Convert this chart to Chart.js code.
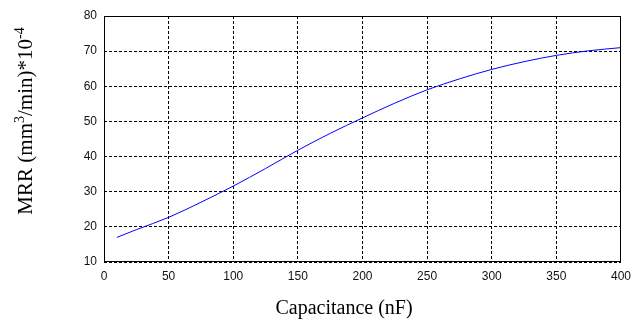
<!DOCTYPE html>
<html>
<head>
<meta charset="utf-8">
<script src="https://cdn.jsdelivr.net/npm/chart.js@4"></script>
<style>
  html, body { margin: 0; padding: 0; background: #fff; }
  #wrap { width: 638px; height: 320px; }
</style>
</head>
<body>
<div id="wrap"><canvas id="mrr_chart" width="638" height="320"></canvas></div>
<script>
// capacitance (nF) and material removal rate
var capacitance = [10, 25, 50, 75, 100, 125, 150, 175, 200, 225, 250, 275, 300, 325, 350, 375, 400];
var mrr = [17.0, 19.2, 22.7, 27.0, 31.6, 36.6, 41.8, 46.6, 51.0, 55.2, 59.0, 62.1, 64.8, 67.0, 68.8, 70.1, 71.0];

var xTicks = [0, 50, 100, 150, 200, 250, 300, 350, 400];
var yTicks = [10, 20, 30, 40, 50, 60, 70, 80];

var xTitle = "Capacitance (nF)";
// y title pieces: [text, superscript?]
var yTitle = [["MRR (mm", false], ["3", true], ["/min)*10", false], ["-4", true]];

var points = capacitance.map(function(c, i) {
    return { x: c, y: mrr[i] };
});

// box round the plot plus the axis titles (serif, like the figure)
var frameAndTitles = {
    id: "frameAndTitles",
    afterDraw: function(chart) {
        var ctx = chart.ctx;
        var a = chart.chartArea;
        ctx.save();
        ctx.strokeStyle = "#000";
        ctx.lineWidth = 1;
        ctx.strokeRect(Math.round(a.left) + 0.5, Math.round(a.top) + 0.5,
                       Math.round(a.right - a.left) - 1, Math.round(a.bottom - a.top) - 1);

        ctx.fillStyle = "#000";
        ctx.font = "20px 'Liberation Serif', 'Times New Roman', serif";
        ctx.textAlign = "center";
        ctx.textBaseline = "middle";
        ctx.fillText(xTitle, 344, 309);

        // y title, rotated, with superscripts
        var big = "21px 'Liberation Serif', 'Times New Roman', serif";
        var small = "14px 'Liberation Serif', 'Times New Roman', serif";
        var total = 0;
        yTitle.forEach(function(p) {
            ctx.font = p[1] ? small : big;
            total += ctx.measureText(p[0]).width;
        });
        ctx.translate(25, 121);
        ctx.rotate(-Math.PI / 2);
        ctx.textAlign = "left";
        ctx.textBaseline = "alphabetic";
        var x = -total / 2;
        yTitle.forEach(function(p) {
            ctx.font = p[1] ? small : big;
            ctx.fillText(p[0], x, p[1] ? -1 : 7);
            x += ctx.measureText(p[0]).width;
        });
        ctx.restore();
    }
};

var tickFont = { family: "'Liberation Sans', Arial, sans-serif", size: 12 };

new Chart(document.getElementById("mrr_chart"), {
    type: "line",
    data: {
        datasets: [{
            label: "MRR",
            data: points,
            borderColor: "#0000ff",
            borderWidth: 1,
            pointRadius: 0,
            fill: false,
            cubicInterpolationMode: "monotone"
        }]
    },
    options: {
        responsive: false,
        animation: false,
        layout: { padding: { top: 16, right: 13, left: 0, bottom: 0 } },
        plugins: {
            legend: { display: false },
            tooltip: { enabled: false }
        },
        scales: {
            x: {
                type: "linear",
                min: 0,
                max: 400,
                afterBuildTicks: function(scale) {
                    scale.ticks = xTicks.map(function(v) { return { value: v }; });
                },
                afterFit: function(scale) { scale.height = 58; },
                ticks: { color: "#111", font: tickFont, padding: 7, maxRotation: 0 },
                grid: { color: "#000", lineWidth: 1, drawTicks: false },
                border: { display: false, dash: [3, 2] }
            },
            y: {
                type: "linear",
                min: 10,
                max: 80,
                afterBuildTicks: function(scale) {
                    scale.ticks = yTicks.map(function(v) { return { value: v }; });
                },
                afterFit: function(scale) { scale.width = 104; },
                ticks: { color: "#111", font: tickFont, padding: 7 },
                grid: { color: "#000", lineWidth: 1, drawTicks: false },
                border: { display: false, dash: [3, 2] }
            }
        }
    },
    plugins: [frameAndTitles]
});
</script>
</body>
</html>
